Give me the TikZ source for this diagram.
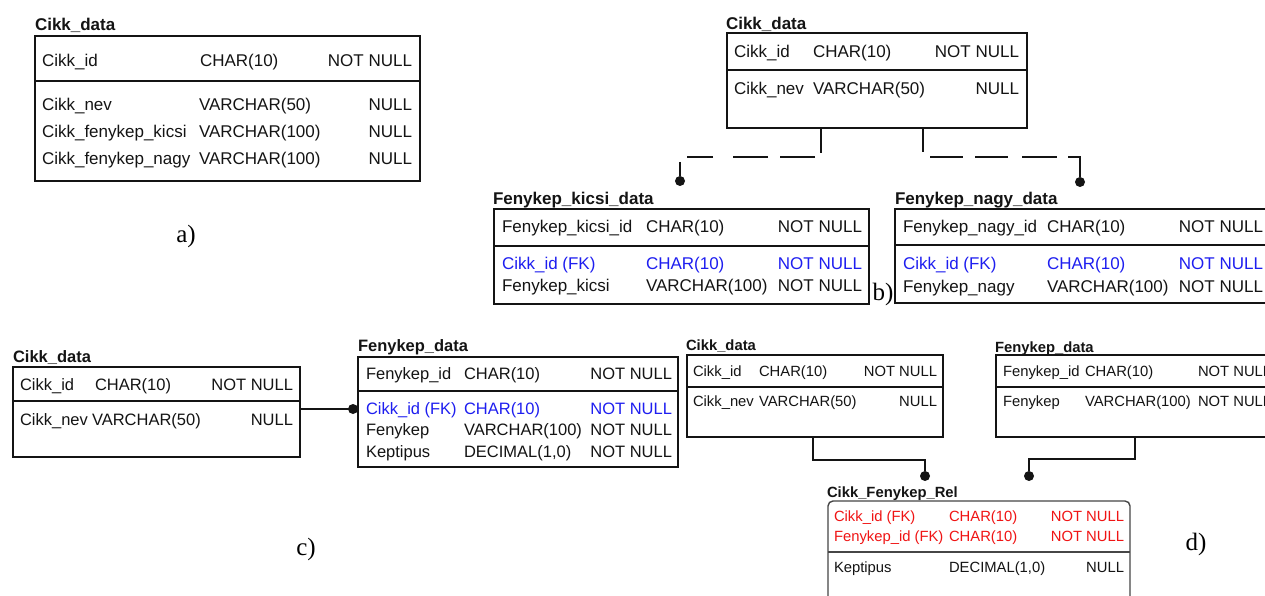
\documentclass[tikz,border=0pt]{standalone}
\usepackage{fontspec}
\setmainfont{Liberation Sans}
\newfontfamily\lblfont{Liberation Serif}
\definecolor{ink}{RGB}{20,20,20}
\definecolor{fkblue}{RGB}{30,30,240}
\definecolor{fkred}{RGB}{240,20,20}
\definecolor{relgray}{RGB}{70,70,70}
\tikzset{
  tbl/.style={draw=ink, line width=1.4pt, anchor=north west, inner sep=0pt, outer sep=0pt},
  sepline/.style={draw=ink, line width=1.4pt},
  conn/.style={draw=ink, line width=1.4pt},
  cell/.style={inner sep=0pt, outer sep=0pt, anchor=west, text=ink,
    font=\fontsize{#1}{#1}\selectfont, text height={0.716*#1pt}, text depth=0pt},
  rcell/.style={cell=#1, anchor=east},
  ttl/.style={cell=#1, font=\fontsize{#1}{#1}\selectfont\bfseries},
  fkdot/.style={circle, fill=ink, inner sep=0pt, outer sep=0pt, minimum size=10pt},
  lbl/.style={font=\lblfont\fontsize{25}{25}\selectfont, inner sep=0pt, anchor=base},
}
\begin{document}
\begin{tikzpicture}[x=1pt,y=-1pt]
\useasboundingbox (0,0) rectangle (1265,596);
\fill[white] (0,0) rectangle (1265,596);
\clip (0,0) rectangle (1265,596);

% ---------- a) single table ----------
\node[ttl=17] (aT) at (35,24) {Cikk\_data};
\node[tbl, minimum width=385pt, minimum height=145pt] (aB) at (35,36) {};
\draw[sepline] (aB.west |- 0,81) -- (aB.east |- 0,81);
\node[cell=17] (a1n) at (42,60) {Cikk\_id};
\node[cell=17] (a1t) at (200,60) {CHAR(10)};
\node[rcell=17] (a1c) at (412,60) {NOT NULL};
\node[cell=17] (a2n) at (42,104) {Cikk\_nev};
\node[cell=17] (a2t) at (199,104) {VARCHAR(50)};
\node[rcell=17] (a2c) at (412,104) {NULL};
\node[cell=17] (a3n) at (42,131) {Cikk\_fenykep\_kicsi};
\node[cell=17] (a3t) at (199,131) {VARCHAR(100)};
\node[rcell=17] (a3c) at (412,131) {NULL};
\node[cell=17] (a4n) at (42,158) {Cikk\_fenykep\_nagy};
\node[cell=17] (a4t) at (199,158) {VARCHAR(100)};
\node[rcell=17] (a4c) at (412,158) {NULL};
\node[lbl] (aL) at (186,242) {a)};

% ---------- b) two photo tables ----------
\node[ttl=17] (bT) at (726,23) {Cikk\_data};
\node[tbl, minimum width=300pt, minimum height=95pt] (bB) at (727,33) {};
\draw[sepline] (bB.west |- 0,70) -- (bB.east |- 0,70);
\node[cell=17] (b1n) at (734,51.5) {Cikk\_id};
\node[cell=17] (b1t) at (813,51.5) {CHAR(10)};
\node[rcell=17] (b1c) at (1019,51.5) {NOT NULL};
\node[cell=17] (b2n) at (734,88.5) {Cikk\_nev};
\node[cell=17] (b2t) at (813,88.5) {VARCHAR(50)};
\node[rcell=17] (b2c) at (1019,88.5) {NULL};

\node[ttl=17] (kT) at (493,198.5) {Fenykep\_kicsi\_data};
\node[tbl, minimum width=375pt, minimum height=95pt] (kB) at (494,209) {};
\draw[sepline] (kB.west |- 0,246) -- (kB.east |- 0,246);
\node[cell=17] (k1n) at (502,226.5) {Fenykep\_kicsi\_id};
\node[cell=17] (k1t) at (646,226.5) {CHAR(10)};
\node[rcell=17] (k1c) at (862,226.5) {NOT NULL};
\node[cell=17, text=fkblue] (k2n) at (502,263.5) {Cikk\_id (FK)};
\node[cell=17, text=fkblue] (k2t) at (646,263.5) {CHAR(10)};
\node[rcell=17, text=fkblue] (k2c) at (862,263.5) {NOT NULL};
\node[cell=17] (k3n) at (502,285.5) {Fenykep\_kicsi};
\node[cell=17] (k3t) at (646,285.5) {VARCHAR(100)};
\node[rcell=17] (k3c) at (862,285.5) {NOT NULL};

\node[ttl=17] (nT) at (895,198.5) {Fenykep\_nagy\_data};
\node[tbl, minimum width=375pt, minimum height=94pt] (nB) at (895,209) {};
\draw[sepline] (nB.west |- 0,245) -- (nB.east |- 0,245);
\node[cell=17] (n1n) at (903,226.5) {Fenykep\_nagy\_id};
\node[cell=17] (n1t) at (1047,226.5) {CHAR(10)};
\node[rcell=17] (n1c) at (1263,226.5) {NOT NULL};
\node[cell=17, text=fkblue] (n2n) at (903,263.5) {Cikk\_id (FK)};
\node[cell=17, text=fkblue] (n2t) at (1047,263.5) {CHAR(10)};
\node[rcell=17, text=fkblue] (n2c) at (1263,263.5) {NOT NULL};
\node[cell=17] (n3n) at (903,286) {Fenykep\_nagy};
\node[cell=17] (n3t) at (1047,286) {VARCHAR(100)};
\node[rcell=17] (n3c) at (1263,286) {NOT NULL};

\node[fkdot] (bD1) at (680,181) {};
\node[fkdot] (bD2) at (1080,182) {};
\draw[conn, dash pattern=on 25pt off 10pt on 35pt off 12pt on 35pt off 20pt on 26pt off 12pt on 40pt off 100pt]
  (bB.south west) ++(94,0) -- ++(0,29) -| (bD1);
\draw[conn, dash pattern=on 24pt off 12pt on 33pt off 12pt on 33pt off 14pt on 35pt off 11pt on 40pt off 100pt]
  (bB.south west) ++(196,0) -- ++(0,29) -| (bD2);
\node[lbl] (bL) at (883,300) {b)};

% ---------- c) one-to-many ----------
\node[ttl=16.5] (cT) at (13,357) {Cikk\_data};
\node[tbl, minimum width=287pt, minimum height=90pt] (cB) at (13,367) {};
\draw[sepline] (cB.west |- 0,401) -- (cB.east |- 0,401);
\node[cell=16.5] (c1n) at (20,385) {Cikk\_id};
\node[cell=16.5] (c1t) at (95,385) {CHAR(10)};
\node[rcell=16.5] (c1c) at (293,385) {NOT NULL};
\node[cell=16.5] (c2n) at (20,420) {Cikk\_nev};
\node[cell=16.5] (c2t) at (92,420) {VARCHAR(50)};
\node[rcell=16.5] (c2c) at (293,420) {NULL};

\node[ttl=16.5] (fT) at (358,346) {Fenykep\_data};
\node[tbl, minimum width=320pt, minimum height=110pt] (fB) at (358,357) {};
\draw[sepline] (fB.west |- 0,391) -- (fB.east |- 0,391);
\node[cell=16.5] (f1n) at (366,373.5) {Fenykep\_id};
\node[cell=16.5] (f1t) at (464,373.5) {CHAR(10)};
\node[rcell=16.5] (f1c) at (672,373.5) {NOT NULL};
\node[cell=16.5, text=fkblue] (f2n) at (366,408.5) {Cikk\_id (FK)};
\node[cell=16.5, text=fkblue] (f2t) at (464,408.5) {CHAR(10)};
\node[rcell=16.5, text=fkblue] (f2c) at (672,408.5) {NOT NULL};
\node[cell=16.5] (f3n) at (366,430) {Fenykep};
\node[cell=16.5] (f3t) at (464,430) {VARCHAR(100)};
\node[rcell=16.5] (f3c) at (672,430) {NOT NULL};
\node[cell=16.5] (f4n) at (366,451.5) {Keptipus};
\node[cell=16.5] (f4t) at (464,451.5) {DECIMAL(1,0)};
\node[rcell=16.5] (f4c) at (672,451.5) {NOT NULL};

\coordinate (cY) at (0,409);
\draw[conn] (cB.east |- cY) -- (fB.west |- cY);
\node[fkdot] (cD) at (353,409) {};
\node[lbl] (cL) at (306,555) {c)};

% ---------- d) many-to-many ----------
\node[ttl=14.8] (dT) at (686,345) {Cikk\_data};
\node[tbl, minimum width=256pt, minimum height=82pt] (dB) at (687,355) {};
\draw[sepline] (dB.west |- 0,387) -- (dB.east |- 0,387);
\node[cell=14.8] (d1n) at (693,371.5) {Cikk\_id};
\node[cell=14.8] (d1t) at (759,371.5) {CHAR(10)};
\node[rcell=14.8] (d1c) at (937,371.5) {NOT NULL};
\node[cell=14.8] (d2n) at (693,401.5) {Cikk\_nev};
\node[cell=14.8] (d2t) at (759,401.5) {VARCHAR(50)};
\node[rcell=14.8] (d2c) at (937,401.5) {NULL};

\node[ttl=14.8] (gT) at (995,347) {Fenykep\_data};
\node[tbl, minimum width=282pt, minimum height=82pt] (gB) at (996,355) {};
\draw[sepline] (gB.west |- 0,387) -- (gB.east |- 0,387);
\node[cell=14.8] (g1n) at (1003,371.5) {Fenykep\_id};
\node[cell=14.8] (g1t) at (1085,371.5) {CHAR(10)};
\node[cell=14.8] (g1c) at (1198,371.5) {NOT NULL};
\node[cell=14.8] (g2n) at (1003,401.5) {Fenykep};
\node[cell=14.8] (g2t) at (1085,401.5) {VARCHAR(100)};
\node[cell=14.8] (g2c) at (1198,401.5) {NOT NULL};

\node[ttl=14.8] (rT) at (827,492) {Cikk\_Fenykep\_Rel};
\node[tbl, draw=relgray, rounded corners=5pt, minimum width=302pt, minimum height=130pt] (rB) at (828,501) {};
\draw[sepline, draw=relgray] (rB.west |- 0,552) -- (rB.east |- 0,552);
\node[cell=14.8, text=fkred] (r1n) at (834,516.5) {Cikk\_id (FK)};
\node[cell=14.8, text=fkred] (r1t) at (949,516.5) {CHAR(10)};
\node[rcell=14.8, text=fkred] (r1c) at (1124,516.5) {NOT NULL};
\node[cell=14.8, text=fkred] (r2n) at (834,536) {Fenykep\_id (FK)};
\node[cell=14.8, text=fkred] (r2t) at (949,536) {CHAR(10)};
\node[rcell=14.8, text=fkred] (r2c) at (1124,536) {NOT NULL};
\node[cell=14.8] (r3n) at (834,567.5) {Keptipus};
\node[cell=14.8] (r3t) at (949,567.5) {DECIMAL(1,0)};
\node[rcell=14.8] (r3c) at (1124,567.5) {NULL};

\node[fkdot] (rD1) at (925,476) {};
\node[fkdot] (rD2) at (1029,476) {};
\draw[conn] (dB.south west) ++(126,0) -- ++(0,23) -| (rD1);
\draw[conn] (gB.south west) ++(139,0) -- ++(0,22) -| (rD2);
\node[lbl] (dL) at (1196,550) {d)};
\end{tikzpicture}
\end{document}
